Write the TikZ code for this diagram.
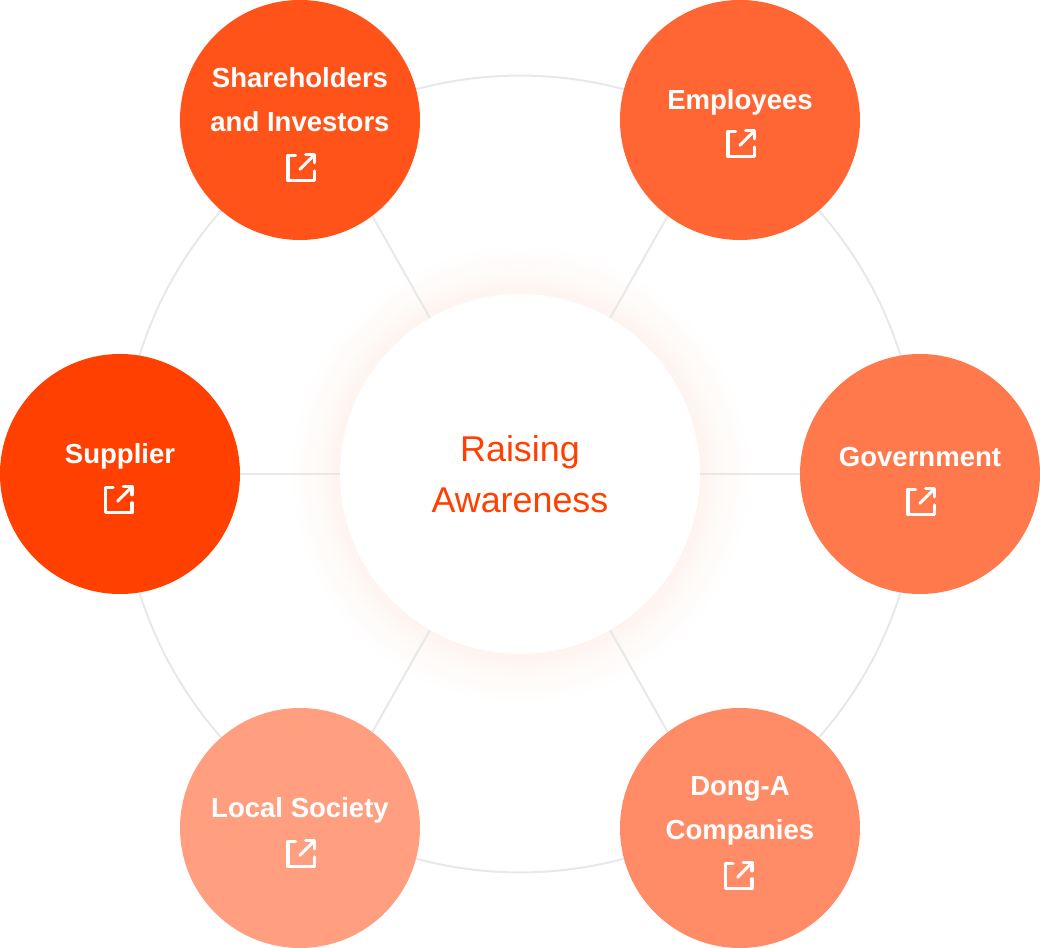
\documentclass[tikz,border=0pt]{standalone}
\usepackage{fontspec}
\setmainfont{Liberation Sans}
\usetikzlibrary{backgrounds}
\definecolor{basec}{HTML}{FF4000}
\definecolor{ringc}{HTML}{E8E8E8}
\definecolor{glowc}{HTML}{FEF3EF}
\definecolor{glowmid}{HTML}{FEFAF8}
\pgfdeclareradialshading{glowshade}{\pgfpoint{0bp}{0bp}}{color(0bp)=(glowc); color(18.7bp)=(glowc); color(21bp)=(glowmid); color(24bp)=(white); color(50bp)=(white)}
\tikzset{
  stake/.style={circle,minimum size=6cm,inner sep=0pt,align=center,text=white,
    font=\fontsize{19.6pt}{31.5pt}\selectfont\bfseries},
  ringline/.style={draw=ringc,line width=1.4pt},
  iconline/.style={white,line width=2.2pt,line cap=round,line join=round},
  linkicon/.pic={
    \draw[iconline] (-0.14,0.32) -- (-0.33,0.32) -- (-0.33,-0.32) -- (0.33,-0.32) -- (0.33,-0.07);
    \draw[iconline] (-0.03,-0.03) -- (0.32,0.32);
    \draw[iconline] (0.11,0.33) -- (0.33,0.33) -- (0.33,0.13);
  }
}
\begin{document}
\begin{tikzpicture}
\useasboundingbox (-13,-11.85) rectangle (13,11.85);
\node[circle,minimum size=9cm,inner sep=0pt,fill=white,align=center,text=basec,
  font=\fontsize{25.5pt}{36.2pt}\selectfont] (center) at (0,0) {Raising\\Awareness};
\node[stake,fill=basec] (supplier) at (-10,0) {Supplier\\[-0.1cm]};
\node[stake,fill=basec!90!white] (holders) at (-5.5,8.85) {Shareholders\\and Investors\\[-0.1cm]};
\node[stake,fill=basec!80!white] (employees) at (5.5,8.85) {Employees\\[-0.1cm]};
\node[stake,fill=basec!70!white] (government) at (10,0) {Government\\[-0.25cm]};
\node[stake,fill=basec!60!white] (donga) at (5.5,-8.85) {Dong-A\\Companies\\[-0.1cm]};
\node[stake,fill=basec!50!white] (society) at (-5.5,-8.85) {Local Society\\[-0.1cm]};
\begin{scope}[on background layer]
\shade[shading=glowshade] (center) circle (6);
\draw[ringline] (center) circle (9.96);
\draw[ringline] (center) -- (supplier);
\draw[ringline] (center.120) -- (holders.-53);
\draw[ringline] (center.60) -- (employees.233);
\draw[ringline] (center) -- (government);
\draw[ringline] (center.-60) -- (donga.127);
\draw[ringline] (center.-120) -- (society.53);
\end{scope}
\pic at ([xshift=-0.03cm,yshift=-0.65cm]supplier) {linkicon};
\pic at ([xshift=0.03cm,yshift=-1.2cm]holders) {linkicon};
\pic at ([xshift=0.03cm,yshift=-0.6cm]employees) {linkicon};
\pic at ([xshift=0.03cm,yshift=-0.7cm]government) {linkicon};
\pic at ([xshift=-0.03cm,yshift=-1.2cm]donga) {linkicon};
\pic at ([xshift=0.03cm,yshift=-0.65cm]society) {linkicon};
\end{tikzpicture}
\end{document}
